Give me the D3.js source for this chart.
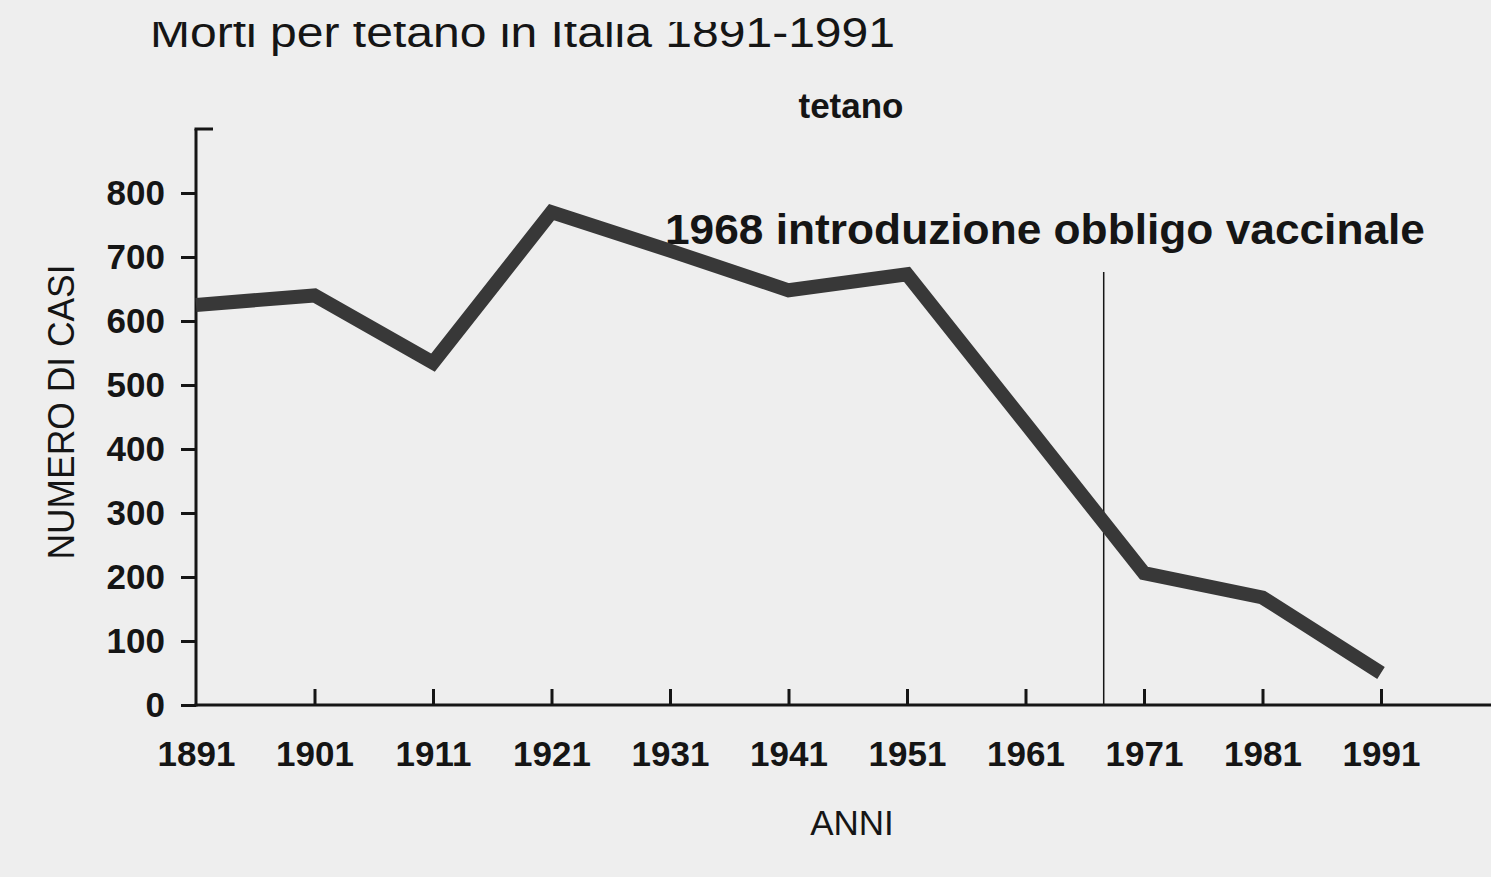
<!DOCTYPE html>
<html lang="it">
<head>
<meta charset="UTF-8">
<title>Morti per tetano in Italia 1891-1991</title>
<style>
    body { margin: 0; background: #eeeeee; }
    svg { display: block; }
    text { font-family: "Liberation Sans", Arial, sans-serif; fill: #151515; }
</style>
</head>
<body>
<div id="chart"></div>
<script src="https://d3js.org/d3.v7.min.js"></script>
<script>
// values
const years = [1891, 1901, 1911, 1921, 1931, 1941, 1951, 1961, 1971, 1981, 1991];
const deaths = [625, 640, 535, 770, 710, 648, 673, 440, 206, 168, 50];
const yTicks = [0, 100, 200, 300, 400, 500, 600, 700, 800];
const vaccineYear = 1967.6; // where the marker sits in the scan
const vaccineLabel = "1968 introduzione obbligo vaccinale";

const W = 1491, H = 877;

const svg = d3.select("#chart").append("svg")
    .attr("width", W)
    .attr("height", H);

svg.append("rect").attr("width", W).attr("height", H).attr("fill", "#eeeeee");

const x = d3.scaleLinear().domain([1891, 1991]).range([196, 1381]);
const y = d3.scaleLinear().domain([0, 900]).range([705, 129]);

// title, its top cropped like in the scan
svg.append("clipPath").attr("id", "titleClip")
    .append("polygon")
    .attr("points", "0,22 745,22 745,10 1491,10 1491,80 0,80");
svg.append("text")
    .attr("x", 150).attr("y", 47)
    .attr("clip-path", "url(#titleClip)")
    .style("font-size", "42px")
    .attr("textLength", 745)
    .attr("lengthAdjust", "spacingAndGlyphs")
    .attr("fill", "#222")
    .text("Morti per tetano in Italia 1891-1991");

svg.append("text")
    .attr("x", 851).attr("y", 118)
    .attr("text-anchor", "middle")
    .style("font-size", "35px").style("font-weight", "bold")
    .text("tetano");

// Y axis
const yAxis = svg.append("g")
    .attr("transform", `translate(${x(1891)},0)`)
    .call(d3.axisLeft(y).tickValues(yTicks).tickSize(15).tickPadding(16).tickSizeOuter(0));
yAxis.select(".domain").remove();
yAxis.append("line")
    .attr("x1", 0).attr("x2", 0).attr("y1", y(900)).attr("y2", y(0) + 1.5)
    .attr("stroke", "#151515").attr("stroke-width", 3);
yAxis.append("line")
    .attr("x1", -1.5).attr("x2", 17).attr("y1", y(900)).attr("y2", y(900))
    .attr("stroke", "#151515").attr("stroke-width", 3);
yAxis.selectAll(".tick line").attr("stroke", "#151515").attr("stroke-width", 3);
yAxis.selectAll(".tick text")
    .style("font-size", "35px").style("font-weight", "bold")
    .attr("font-family", null).attr("fill", "#151515");

// X axis, ticks pointing up
const xAxis = svg.append("g")
    .attr("transform", `translate(0,${y(0)})`)
    .call(d3.axisBottom(x).tickValues(years).tickFormat(d3.format("d"))
        .tickSize(0).tickPadding(36).tickSizeOuter(0));
xAxis.select(".domain").remove();
xAxis.append("line")
    .attr("x1", x(1891) - 1.5).attr("x2", W).attr("y1", 0).attr("y2", 0)
    .attr("stroke", "#151515").attr("stroke-width", 3);
xAxis.selectAll(".tick")
    .filter(d => d !== 1891)
    .append("line")
    .attr("y1", 0).attr("y2", -16)
    .attr("stroke", "#151515").attr("stroke-width", 3);
xAxis.selectAll(".tick text")
    .style("font-size", "35px").style("font-weight", "bold")
    .attr("font-family", null).attr("fill", "#151515");

svg.append("text")
    .attr("x", 852).attr("y", 835)
    .attr("text-anchor", "middle")
    .style("font-size", "35px")
    .text("ANNI");

svg.append("text")
    .attr("transform", `translate(74,${412}) rotate(-90)`)
    .attr("text-anchor", "middle")
    .style("font-size", "36px")
    .attr("textLength", 295)
    .attr("lengthAdjust", "spacingAndGlyphs")
    .text("NUMERO DI CASI");

// vaccination marker
svg.append("line")
    .attr("x1", x(vaccineYear)).attr("x2", x(vaccineYear))
    .attr("y1", 272).attr("y2", y(0))
    .attr("stroke", "#151515").attr("stroke-width", 1.5);

svg.append("text")
    .attr("x", 665).attr("y", 244)
    .style("font-size", "42px").style("font-weight", "bold")
    .attr("textLength", 760)
    .attr("lengthAdjust", "spacingAndGlyphs")
    .text(vaccineLabel);

// data line
const line = d3.line()
    .x((d, i) => x(years[i]))
    .y(d => y(d));

svg.append("path")
    .datum(deaths)
    .attr("d", line)
    .attr("fill", "none")
    .attr("stroke", "#383838")
    .attr("stroke-width", 14)
    .attr("stroke-linejoin", "miter");
</script>
</body>
</html>
